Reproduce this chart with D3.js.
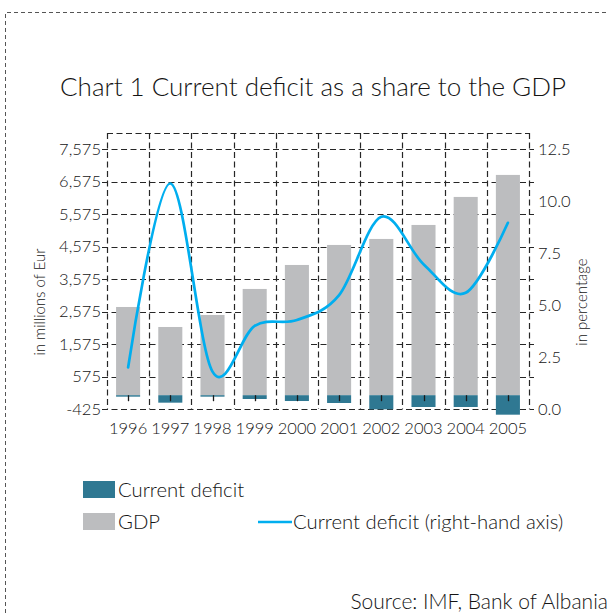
<!DOCTYPE html>
<html>
<head>
<meta charset="utf-8">
<script src="https://cdn.jsdelivr.net/npm/d3@7"></script>
<style>
  body { margin: 0; background: #fff; }
  svg text { font-family: Lato, "Open Sans", sans-serif; font-weight: 300; fill: #141414; }
</style>
</head>
<body>
<svg id="chart" width="609" height="613"></svg>
<script>
// Albania: GDP and current account deficit (millions of EUR), deficit as % of GDP
const years = ["1996", "1997", "1998", "1999", "2000", "2001", "2002", "2003", "2004", "2005"];
const gdp = [2717, 2101, 2471, 3272, 4011, 4627, 4812, 5243, 6106, 6784];
const currentDeficit = [-45, -230, -45, -117, -179, -240, -435, -363, -363, -600];
const deficitShare = [2.0, 10.85, 1.8, 4.0, 4.28, 5.48, 9.25, 6.97, 5.59, 8.96];
const leftTicks = [-425, 575, 1575, 2575, 3575, 4575, 5575, 6575, 7575];
const rightTicks = [0, 2.5, 5, 7.5, 10, 12.5];

const svg = d3.select("#chart");
const plot = { left: 107, right: 529, top: 133, bottom: 409 };
const gridColor = "#262626";
const gridDash = "6,3.5";

// outer frame (top and left edges)
svg.append("path")
  .attr("d", "M5.5,613 V12.5 H609")
  .attr("fill", "none").attr("stroke", "#555").attr("stroke-width", 1)
  .attr("stroke-dasharray", "4,3");

svg.append("text")
  .attr("x", 60).attr("y", 96)
  .style("font-size", "26px")
  .text("Chart 1 Current deficit as a share to the GDP");

const x = d3.scaleBand().domain(years).range([plot.left, plot.right]).padding(0);
const yL = d3.scaleLinear().domain([-425, 8075]).range([plot.bottom, plot.top]);
const yR = d3.scaleLinear().domain([0, 12.5]).range([plot.bottom, yL(7575)]);
const bw = x.bandwidth();
const barW = bw * 0.57;
const cx = d => x(d) + bw / 2;

// grid: horizontal lines at left-axis ticks (extending as tick marks past both edges)
const grid = svg.append("g").attr("stroke", gridColor).attr("stroke-width", 1.2)
  .attr("stroke-dasharray", gridDash);
grid.selectAll("line.h").data(leftTicks).join("line").attr("class", "h")
  .attr("x1", plot.left - 5).attr("x2", plot.right + 5)
  .attr("y1", d => Math.round(yL(d)) + 0.5).attr("y2", d => Math.round(yL(d)) + 0.5);
grid.append("line")
  .attr("x1", plot.left).attr("x2", plot.right)
  .attr("y1", plot.top + 0.5).attr("y2", plot.top + 0.5);
// vertical lines between categories
const edges = years.map(d => x(d)).concat([plot.right]);
grid.selectAll("line.v").data(edges).join("line").attr("class", "v")
  .attr("x1", d => Math.round(d) + 0.5).attr("x2", d => Math.round(d) + 0.5)
  .attr("y1", plot.top).attr("y2", plot.bottom);

// GDP bars
svg.append("g").selectAll("rect").data(years).join("rect")
  .attr("x", d => cx(d) - barW / 2).attr("width", barW)
  .attr("y", (d, i) => yL(gdp[i]))
  .attr("height", (d, i) => yL(0) - yL(gdp[i]))
  .attr("fill", "#bcbdbf");

// current deficit bars
svg.append("g").selectAll("rect").data(years).join("rect")
  .attr("x", d => cx(d) - barW / 2).attr("width", barW)
  .attr("y", yL(0))
  .attr("height", (d, i) => yL(currentDeficit[i]) - yL(0))
  .attr("fill", "#2f7892");

// category ticks on the zero line
svg.append("g").selectAll("line").data(years).join("line")
  .attr("x1", d => Math.round(cx(d)) + 0.5).attr("x2", d => Math.round(cx(d)) + 0.5)
  .attr("y1", yL(0)).attr("y2", yL(0) + 6)
  .attr("stroke", "#1a1a1a").attr("stroke-width", 1.3);

// deficit share line (right-hand axis)
const line = d3.line()
  .x((d, i) => cx(years[i]))
  .y(d => yR(d))
  .curve(d3.curveCardinal.tension(0));
svg.append("path").datum(deficitShare)
  .attr("d", line)
  .attr("fill", "none").attr("stroke", "#00aeef").attr("stroke-width", 2.7)
  .attr("stroke-linejoin", "round").attr("stroke-linecap", "round");

// axes labels
const fmtLeft = d => d3.format(",")(d).replace("\u2212", "-");
const axL = svg.append("g").attr("transform", `translate(${plot.left},0)`)
  .call(d3.axisLeft(yL).tickValues(leftTicks).tickFormat(fmtLeft).tickSize(0).tickPadding(6));
const axR = svg.append("g").attr("transform", `translate(${plot.right},0)`)
  .call(d3.axisRight(yR).tickValues(rightTicks).tickFormat(d3.format(".1f")).tickSize(0).tickPadding(9));
const axB = svg.append("g").attr("transform", `translate(0,${plot.bottom})`)
  .call(d3.axisBottom(x).tickSize(0).tickPadding(13));
[axL, axR, axB].forEach(a => {
  a.select(".domain").remove();
  a.selectAll("text").attr("fill", "#141414")
    .style("font-family", 'Lato, "Open Sans", sans-serif').style("font-weight", 300)
    .style("font-size", "16.5px");
});

svg.append("text")
  .attr("transform", "translate(45,302) rotate(-90)")
  .attr("text-anchor", "middle").style("font-size", "15px")
  .text("in millions of Eur");
svg.append("text")
  .attr("transform", "translate(587,302) rotate(-90)")
  .attr("text-anchor", "middle").style("font-size", "15px")
  .text("in percentage");

// legend
const lg = svg.append("g").style("font-size", "20.3px");
lg.append("rect").attr("x", 83).attr("y", 481).attr("width", 32).attr("height", 17).attr("fill", "#2f7892");
lg.append("text").attr("x", 118).attr("y", 497).text("Current deficit");
lg.append("rect").attr("x", 83).attr("y", 513).attr("width", 32).attr("height", 17).attr("fill", "#bcbdbf");
lg.append("text").attr("x", 118).attr("y", 529).text("GDP");
lg.append("line").attr("x1", 258).attr("x2", 292).attr("y1", 522).attr("y2", 522)
  .attr("stroke", "#00aeef").attr("stroke-width", 2.7);
lg.append("text").attr("x", 293).attr("y", 529).text("Current deficit (right-hand axis)");

svg.append("text")
  .attr("x", 608).attr("y", 609).attr("text-anchor", "end").style("font-size", "21px")
  .text("Source: IMF, Bank of Albania");
</script>
</body>
</html>
